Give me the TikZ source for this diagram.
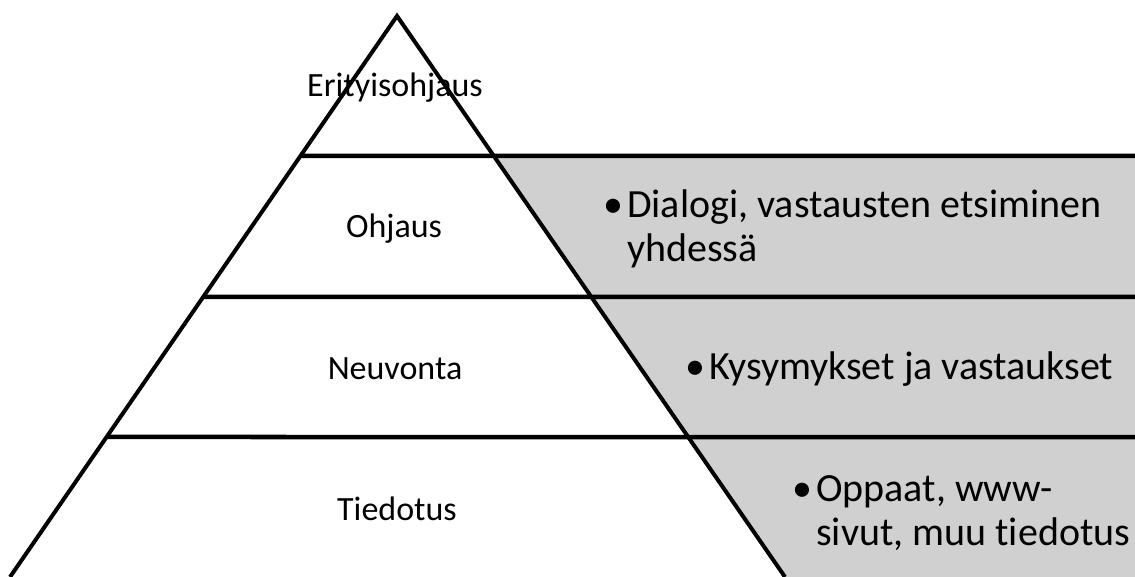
\documentclass[tikz,border=0pt]{standalone}
\usepackage{fontspec}
\setmainfont{Carlito}[Ligatures=NoCommon]
\usetikzlibrary{calc}
\definecolor{boxgray}{RGB}{208,208,208}
\tikzset{
    level/.style = {font=\fontsize{34}{41}\selectfont, inner sep=0pt, anchor=base},
    item/.style = {font=\fontsize{40}{44}\selectfont, align=left, anchor=base west, inner sep=0pt},
    edge/.style = {line width=4pt},
    sep/.style = {line width=4.5pt}
}

\begin{document}
\begin{tikzpicture}[x=1pt,y=-1pt]
    \useasboundingbox (0,0) rectangle (1135,577);
    \coordinate (apex) at (397,16);
    \coordinate (bl) at (10,577);
    \coordinate (br) at (785,577);
    % gray part on the right
    \fill[boxgray] ($(apex)!{(156-16)/561}!(br)$) -- (1135,156) -- (1135,577) -- (br) -- cycle;
    \foreach \y in {156,297,437}
        \draw[sep] ($(apex)!{(\y-16)/561}!(bl)$) -- (1135,\y);
    \draw[edge] (bl) -- (apex) -- (br);
    % levels
    \node [level] (eri) at (395,97) {Erityisohjaus};
    \node [level] (ohj) at (394,238) {Ohjaus};
    \node [level] (neu) at (395,379) {Neuvonta};
    \node [level] (tie) at (397,520) {Tiedotus};
    % descriptions (base = last line)
    \node [item] (dia) at (627,262) {\llap{\textbullet\hspace{4pt}}Dialogi, vastausten etsiminen\\yhdessä};
    \node [item] (kys) at (709,379) {\llap{\textbullet\hspace{4pt}}Kysymykset ja vastaukset};
    \node [item] (opp) at (816,545) {\llap{\textbullet\hspace{4pt}}Oppaat, www-\\sivut, muu tiedotus};
\end{tikzpicture}
\end{document}
